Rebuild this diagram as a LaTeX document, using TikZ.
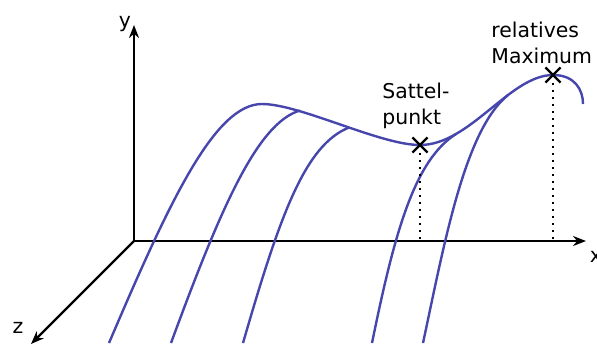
\documentclass[tikz,border=0pt]{standalone}
\usepackage{fontspec}
\setmainfont{DejaVu Sans}
\usetikzlibrary{arrows.meta,shapes.misc}
\definecolor{surfblue}{RGB}{70,70,172}
\begin{document}
\begin{tikzpicture}[x=0.5pt,y=-0.5pt,
    ax/.style={line width=1.1pt,-{Stealth[length=6.5pt,width=5pt]}},
    surf/.style={line width=1.2pt,surfblue},
    mk/.style={cross out,draw,line width=1.1pt,minimum size=6.5pt,inner sep=0pt},
    lotdots/.style={line width=1.1pt,dash pattern=on 1.1pt off 2.4pt},
    lbl/.style={font=\fontsize{10.2}{12.8}\selectfont,inner sep=0pt}]
    \useasboundingbox (0,0) rectangle (597,345);
    % axes
    \coordinate (o) at (134,241);
    \coordinate (xe) at (586,241); \coordinate (ye) at (134,25); \coordinate (ze) at (31,344);
    \draw[ax] (o)--(xe); \draw[ax] (o)--(ye); \draw[ax] (o)--(ze);
    \node[lbl,anchor=base] (xlab) at (596,262) {x};
    \node[lbl,anchor=base] (ylab) at (125,27) {y};
    \node[lbl,anchor=base] (zlab) at (18,333) {z};
    % profile and slices
    \draw[surf] (109,343) .. controls (170,200) and (215,104) .. (262,104)
      .. controls (300,104) and (380,145) .. (420,145)
      .. controls (470,145) and (510,75) .. (553,75)
      .. controls (575,75) and (583,90) .. (583,104);
    \draw[surf] (171,343) .. controls (220,210) and (257,123) .. (300,110.5);
    \draw[surf] (243,343) .. controls (280,215) and (305,145) .. (349,127.5);
    \draw[surf] (372,343) .. controls (395,230) and (415,160) .. (456,134);
    \draw[surf] (423,343) .. controls (445,240) and (465,130) .. (508,95);
    % marked points
    \node[mk] (sp) at (420,145) {};
    \node[mk] (mx) at (553,75) {};
    \coordinate (spx) at (420,241); \coordinate (mxx) at (553,241);
    \draw[lotdots] (sp)--(spx); \draw[lotdots] (mx)--(mxx);
    \node[lbl,anchor=north west,align=left] (splab) at (382,83) {Sattel-\\punkt};
    \node[lbl,anchor=north west,align=left] (mxlab) at (491,22) {relatives\\Maximum};
\end{tikzpicture}
\end{document}
